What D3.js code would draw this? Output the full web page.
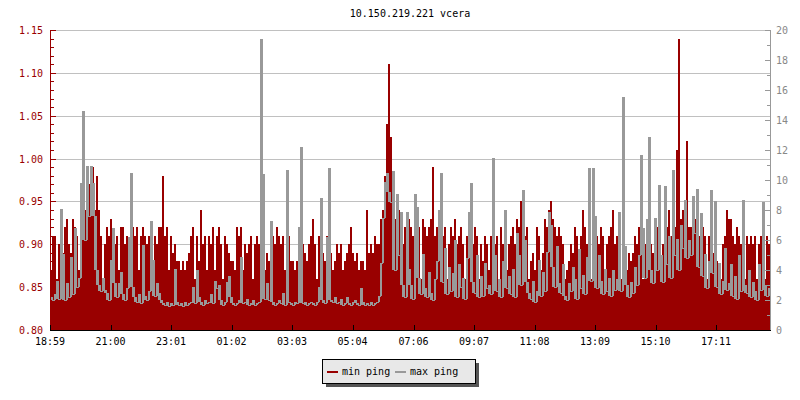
<!DOCTYPE html>
<html><head><meta charset="utf-8">
<script src="https://cdn.jsdelivr.net/npm/d3@7"></script>
<style>html,body{margin:0;padding:0;background:#fff}svg{display:block}text{font-family:"DejaVu Sans Mono",monospace;font-size:10px}</style>
</head><body><svg id="c" width="800" height="400"></svg>
<script>
const title = "10.150.219.221 vcera";
const stepMinutes = 4;
const xLabels = ["18:59","21:00","23:01","01:02","03:03","05:04","07:06","09:07","11:08","13:09","15:10","17:11"];
const leftTicks = [0.80,0.85,0.90,0.95,1.00,1.05,1.10,1.15];
const rightTicks = [0,2,4,6,8,10,12,14,16,18,20];
const seriesNames = ["min ping","max ping"];
const minPing = [
0.87,0.91,0.91,0.86,0.90,0.91,0.89,0.92,0.93,0.90,
0.89,0.93,0.92,0.91,0.87,0.96,0.97,0.94,0.95,0.97,
0.97,0.99,0.94,0.98,0.94,0.91,0.86,0.90,0.92,0.91,
0.93,0.91,0.90,0.91,0.87,0.92,0.92,0.90,0.91,0.89,
0.90,0.92,0.91,0.92,0.87,0.91,0.92,0.91,0.90,0.91,
0.91,0.86,0.91,0.90,0.92,0.92,0.98,0.91,0.92,0.87,
0.91,0.89,0.90,0.88,0.88,0.87,0.88,0.87,0.88,0.89,
0.91,0.92,0.86,0.91,0.88,0.94,0.90,0.91,0.87,0.91,
0.90,0.92,0.87,0.91,0.92,0.90,0.86,0.91,0.90,0.89,
0.88,0.88,0.87,0.92,0.91,0.92,0.87,0.90,0.89,0.90,
0.91,0.86,0.90,0.91,0.90,0.86,0.98,0.87,0.89,0.88,
0.89,0.91,0.90,0.92,0.91,0.90,0.91,0.87,0.92,0.91,
0.88,0.88,0.87,0.88,0.87,0.88,0.90,0.89,0.88,0.90,
0.91,0.93,0.90,0.86,0.91,0.90,0.89,0.88,0.91,0.90,
0.89,0.87,0.88,0.90,0.89,0.90,0.87,0.88,0.89,0.90,
0.92,0.89,0.88,0.89,0.87,0.88,0.88,0.87,0.94,0.89,
0.90,0.89,0.91,0.90,0.90,0.93,0.94,0.98,1.04,1.11,
1.025,0.96,0.93,0.92,0.94,0.91,0.90,0.92,0.91,0.93,
0.92,0.91,0.89,0.91,0.92,0.86,0.93,0.92,0.91,0.92,
0.93,0.99,0.91,0.92,0.90,0.93,0.91,0.92,0.86,0.90,
0.92,0.91,0.93,0.90,0.91,0.92,0.90,0.86,0.91,0.92,
0.93,0.90,0.92,0.91,0.86,0.90,0.88,0.91,0.90,0.87,
0.91,0.92,0.90,0.91,0.86,0.92,0.90,0.91,0.87,0.90,
0.91,0.92,0.90,0.93,0.92,0.95,0.94,0.91,0.92,0.86,
0.88,0.89,0.87,0.92,0.91,0.87,0.89,0.93,0.92,0.94,
0.95,0.93,0.92,0.91,0.92,0.91,0.90,0.86,0.87,0.88,
0.90,0.89,0.92,0.91,0.87,0.91,0.94,0.92,0.90,0.91,
0.86,0.91,0.90,0.91,0.90,0.92,0.91,0.86,0.90,0.91,
0.92,0.94,0.90,0.91,0.92,0.86,0.91,0.88,0.87,0.89,
0.88,0.89,0.91,0.90,0.92,0.91,0.86,0.90,0.92,0.91,
0.90,0.89,0.90,0.92,0.91,0.86,0.90,0.91,0.92,0.94,
0.91,0.93,0.92,1.01,1.14,0.93,0.94,0.92,1.02,0.92,
0.92,0.91,0.93,0.92,0.91,0.90,0.92,0.91,0.86,0.91,
0.90,0.89,0.90,0.88,0.87,0.86,0.90,0.91,0.94,0.93,
0.93,0.91,0.90,0.92,0.91,0.90,0.92,0.86,0.91,0.90,
0.91,0.90,0.91,0.86,0.90,0.91,0.90,0.86,0.91,0.90];
const maxPing = [
2.2,2.0,2.4,3.3,2.1,8.1,5.1,2.0,3.1,2.2,
4.9,2.4,6.8,2.9,3.5,9.8,14.6,6.0,10.9,7.6,
10.9,9.8,7.6,4.0,3.0,2.6,3.5,2.7,2.5,2.0,
4.7,6.8,3.1,2.2,3.1,3.9,2.4,2.0,2.8,6.2,
10.5,2.9,2.2,1.9,2.4,1.8,5.7,2.3,2.0,2.6,
7.3,4.7,2.3,3.1,2.5,2.0,1.8,1.7,1.9,1.6,
1.8,1.7,4.1,1.9,1.7,1.8,1.6,1.9,1.7,1.8,
1.9,2.9,1.8,4.0,2.2,1.9,1.7,2.0,1.8,1.9,
2.4,1.8,3.3,2.8,3.0,2.0,1.7,1.9,3.2,3.6,
2.2,1.8,1.7,1.8,2.0,4.9,1.8,1.9,2.1,1.7,
1.8,2.0,1.7,1.8,1.9,19.4,10.4,2.1,3.1,2.0,
7.3,1.9,1.7,1.8,2.0,1.8,2.5,1.7,10.7,1.9,
1.8,1.7,1.9,1.8,6.9,12.2,1.8,1.9,1.7,1.8,
1.9,1.8,1.7,1.9,2.9,8.8,2.0,1.8,6.2,10.8,
2.0,1.9,2.2,1.8,1.9,2.1,1.7,1.8,2.2,1.8,
1.7,1.9,2.0,1.8,1.7,2.8,1.9,1.7,1.8,1.7,
1.9,1.7,1.8,1.9,2.3,4.5,7.5,9.9,10.5,9.2,
8.5,10.6,4.0,9.1,5.0,7.9,3.0,2.2,7.9,4.1,
3.0,2.1,9.1,8.2,3.5,2.4,5.1,2.8,2.2,3.9,
2.5,2.0,3.4,4.6,8.0,10.5,3.2,5.5,2.4,4.2,
2.6,3.8,6.0,2.2,4.4,2.9,3.5,2.1,4.8,7.9,
9.8,3.2,2.5,5.0,2.2,3.6,2.3,4.5,2.8,3.0,
2.4,11.5,5.0,2.6,3.4,2.2,4.6,8.0,2.8,3.6,
2.4,4.1,2.2,6.5,5.0,3.0,9.3,6.0,3.2,2.5,
2.1,3.3,1.9,2.6,4.7,2.3,3.9,2.6,5.2,7.9,
7.0,4.2,2.9,5.6,3.1,2.5,4.4,2.3,2.0,3.1,
2.6,4.2,3.4,2.1,5.4,2.8,3.7,2.4,4.9,10.8,
3.3,10.8,7.6,2.8,5.0,3.3,2.4,4.1,2.6,3.5,
2.3,4.0,2.7,3.4,7.9,2.6,15.5,5.6,3.0,2.2,
3.2,2.5,4.2,3.0,5.0,11.7,6.8,3.5,7.4,12.9,
4.0,3.1,7.5,4.0,9.7,5.0,3.2,9.6,4.4,6.3,
3.5,10.7,5.0,6.1,4.0,7.0,5.5,8.7,4.8,6.0,
5.0,8.9,6.5,9.4,4.2,7.8,3.6,5.1,2.8,4.6,
9.3,3.8,8.6,2.9,4.5,2.4,3.3,5.5,2.7,3.1,
4.4,2.3,3.6,2.1,5.0,2.6,8.7,3.0,2.5,4.0,
2.2,3.2,2.6,2.0,4.4,2.7,8.5,3.0,2.3,2.8];

const RED = "#990000", GREY = "#999999";
const svg = d3.select("#c");
const L = 50, R = 770, T = 30, B = 330;

const x = d3.scaleLinear().domain([0, 1440]).range([L, R]);
const yL = d3.scaleLinear().domain([0.80, 1.15]).range([B, T]);
const yR = d3.scaleLinear().domain([0, 20]).range([B, T]);

svg.append("rect").attr("width",800).attr("height",400).attr("fill","#fff");

svg.append("text").attr("x", 410).attr("y", 17).attr("text-anchor","middle").attr("fill","#000").text(title);

svg.append("g").selectAll("line").data(leftTicks.filter(v => v > 0.80)).join("line")
  .attr("x1", L).attr("x2", R)
  .attr("y1", d => Math.round(yL(d)) + 0.5).attr("y2", d => Math.round(yL(d)) + 0.5)
  .attr("stroke", "#c0c0c0").attr("stroke-width", 1);

svg.append("clipPath").attr("id","pc").append("rect").attr("x",L+1).attr("y",T-1).attr("width",R-L-1).attr("height",B-T+1);

const ptsMin = minPing.map((v,i) => [i*stepMinutes, v]); ptsMin.push([minPing.length*stepMinutes, minPing[minPing.length-1]]);
const ptsMax = maxPing.map((v,i) => ({t: i*stepMinutes, v: v,
  lo: Math.min(v, i > 0 ? maxPing[i-1] : v, i < maxPing.length-1 ? maxPing[i+1] : v)}));
ptsMax.push({t: maxPing.length*stepMinutes, v: maxPing[maxPing.length-1], lo: maxPing[maxPing.length-1]});

const g = svg.append("g").attr("clip-path","url(#pc)");
g.append("path").datum(ptsMin)
  .attr("d", d3.area().curve(d3.curveStepAfter).x(d => x(d[0])).y0(B).y1(d => yL(d[1])))
  .attr("fill", RED).attr("shape-rendering","crispEdges");
// max ping: solid spikes + connecting step line
g.append("path").datum(ptsMax)
  .attr("d", d3.area().curve(d3.curveStepAfter).x(d => x(d.t)).y0(d => Math.round(yR(d.lo))).y1(d => Math.round(yR(d.v))))
  .attr("fill", GREY).attr("shape-rendering","crispEdges");
g.append("path").datum(ptsMax)
  .attr("transform","translate(0.5,0.5)")
  .attr("d", d3.line().curve(d3.curveStepAfter).x(d => x(d.t)).y(d => Math.round(yR(d.v))))
  .attr("fill","none").attr("stroke", GREY).attr("stroke-width", 1).attr("shape-rendering","crispEdges");

const la = svg.append("g").attr("transform", `translate(${L},0)`);
la.append("line").attr("x1",0.5).attr("x2",0.5).attr("y1",T).attr("y2",B).attr("stroke",RED);
const minorL = d3.range(0, 36).map(k => 0.80 + k*0.01);
la.selectAll("line.mn").data(minorL).join("line").attr("class","mn")
  .attr("x1",0).attr("x2",4).attr("y1", d => Math.round(yL(d))+0.5).attr("y2", d => Math.round(yL(d))+0.5).attr("stroke",RED);
la.selectAll("line.mj").data(leftTicks).join("line").attr("class","mj")
  .attr("x1",0).attr("x2",6).attr("y1", d => Math.round(yL(d))+0.5).attr("y2", d => Math.round(yL(d))+0.5).attr("stroke",RED);
la.selectAll("text").data(leftTicks).join("text")
  .attr("x", -7).attr("y", d => yL(d) + 4).attr("text-anchor","end").attr("fill", RED)
  .text(d => d.toFixed(2));

const ra = svg.append("g").attr("transform", `translate(${R},0)`);
ra.append("line").attr("x1",0.5).attr("x2",0.5).attr("y1",T).attr("y2",B).attr("stroke",GREY);
const minorR = d3.range(0, 21);
ra.selectAll("line.mn").data(minorR).join("line").attr("class","mn")
  .attr("x1",-3).attr("x2",0).attr("y1", d => Math.round(yR(d))+0.5).attr("y2", d => Math.round(yR(d))+0.5).attr("stroke",GREY);
ra.selectAll("line.mj").data(rightTicks).join("line").attr("class","mj")
  .attr("x1",-5).attr("x2",0).attr("y1", d => Math.round(yR(d))+0.5).attr("y2", d => Math.round(yR(d))+0.5).attr("stroke",GREY);
ra.selectAll("text").data(rightTicks).join("text")
  .attr("x", 6).attr("y", d => yR(d) + 4).attr("text-anchor","start").attr("fill", "#888")
  .text(d => d);

const startMin = 18*60 + 59;
const labelMin = xLabels.map(s => { const [h,m] = s.split(":").map(Number); let t = h*60+m - startMin; if (t < 0) t += 1440; return t; });
const ba = svg.append("g");
ba.append("line").attr("x1",L).attr("x2",R+1).attr("y1",B+0.5).attr("y2",B+0.5).attr("stroke","#000");
ba.selectAll("line.t").data(labelMin).join("line").attr("class","t")
  .attr("x1", d => Math.round(x(d))+0.5).attr("x2", d => Math.round(x(d))+0.5).attr("y1", B-5).attr("y2", B).attr("stroke","#000");
ba.selectAll("text").data(xLabels).join("text")
  .attr("x", (d,i) => x(labelMin[i])).attr("y", B + 15).attr("text-anchor","middle").attr("fill","#000")
  .text(d => d);

const lg = svg.append("g");
lg.append("rect").attr("x",326).attr("y",363).attr("width",153).attr("height",24).attr("fill","#555");
lg.append("rect").attr("x",322.5).attr("y",359.5).attr("width",153).attr("height",24).attr("fill","#e8e8e8").attr("stroke","#000");
const items = [{name: seriesNames[0], color: RED, x: 327}, {name: seriesNames[1], color: GREY, x: 395}];
items.forEach(it => {
  lg.append("line").attr("x1", it.x).attr("x2", it.x+11).attr("y1", 372).attr("y2", 372).attr("stroke", it.color).attr("stroke-width", 2);
  lg.append("text").attr("x", it.x+15).attr("y", 375).attr("fill","#000").text(it.name);
});
</script></body></html>
